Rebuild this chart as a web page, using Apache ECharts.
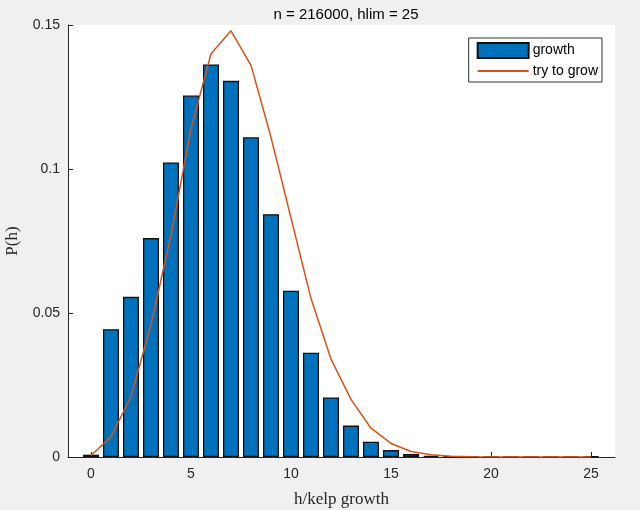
<!DOCTYPE html>
<html>
<head>
<meta charset="utf-8">
<script src="https://cdn.jsdelivr.net/npm/echarts@6/dist/echarts.min.js"></script>
<style>
  html, body { margin: 0; padding: 0; background: #f0f0f0; }
  #chart { width: 640px; height: 510px; }
</style>
</head>
<body>
<div id="chart"></div>
<script>
// h values (bins) and measured probabilities
var hBins = [0,1,2,3,4,5,6,7,8,9,10,11,12,13,14,15,16,17,18,19,20,21,22,23,24,25];
var growth = [0.0008,0.0444,0.0556,0.0760,0.1023,0.1255,0.1363,0.1306,0.1110,0.0843,0.0577,0.0362,0.0207,0.0109,0.0053,0.0024,0.0010,0.0004,0.0002,0.0001,0,0,0,0,0,0.0002];
var tryToGrow = [0.0005,0.007,0.021,0.046,0.077,0.114,0.140,0.148,0.136,0.111,0.083,0.055,0.034,0.020,0.010,0.0047,0.0019,0.0008,0.0003,0.0001,0,0,0,0,0,0];
var xTicks = [0,5,10,15,20,25];

var tickFont = { fontFamily: 'Liberation Sans', fontSize: 14, color: '#262626' };

var barData = hBins.map(function (h, i) { return [h, growth[i]]; });
var lineData = hBins.map(function (h, i) { return [h, tryToGrow[i]]; });

var myChart = echarts.init(document.getElementById('chart'));
var option = {
  backgroundColor: '#f0f0f0',
  animation: false,
  title: {
    text: 'n = 216000, hlim = 25',
    left: 341,
    top: 2,
    textAlign: 'center',
    textStyle: { fontFamily: 'Liberation Sans', fontSize: 15, fontWeight: 'normal', color: '#000' }
  },
  grid: {
    left: 68, top: 25, right: 25, bottom: 53,
    outerBoundsMode: 'none',
    containLabel: false,
    show: true, backgroundColor: '#fff', borderWidth: 0
  },
  legend: {
    orient: 'vertical',
    right: 38,
    top: 38,
    itemWidth: 51,
    itemHeight: 15,
    itemGap: 5,
    padding: [4, 4, 4, 8],
    backgroundColor: '#fff',
    borderColor: '#333',
    borderWidth: 1,
    textStyle: { fontFamily: 'Liberation Sans', fontSize: 14, color: '#000', padding: [0, 0, 0, -1] },
    data: [
      { name: 'growth', icon: 'rect' },
      { name: 'try to grow', itemStyle: { opacity: 0 } }
    ]
  },
  xAxis: {
    type: 'value',
    min: -1.15,
    max: 26.2,
    name: 'h/kelp growth',
    nameLocation: 'middle',
    nameGap: 34,
    nameTextStyle: { fontFamily: 'Liberation Serif', fontSize: 17, color: '#262626' },
    axisLine: { onZero: false, lineStyle: { color: '#262626' } },
    axisTick: { inside: true, length: 5, customValues: xTicks, lineStyle: { color: '#262626' } },
    axisLabel: Object.assign({ margin: 10, customValues: xTicks }, tickFont),
    splitLine: { show: false }
  },
  yAxis: {
    type: 'value',
    min: 0,
    max: 0.15,
    interval: 0.05,
    name: 'P(h)',
    nameLocation: 'middle',
    nameGap: 47,
    nameTextStyle: { fontFamily: 'Liberation Serif', fontSize: 17, color: '#262626' },
    axisLine: { show: true, onZero: false, lineStyle: { color: '#262626' } },
    axisTick: { show: true, inside: true, length: 5, lineStyle: { color: '#262626' } },
    axisLabel: Object.assign({ margin: 8 }, tickFont),
    splitLine: { show: false }
  },
  series: [
    {
      name: 'growth',
      type: 'bar',
      data: barData,
      barWidth: 16,
      itemStyle: { color: '#0072BD', borderColor: '#111', borderWidth: 1.3 }
    },
    {
      name: 'try to grow',
      type: 'line',
      data: lineData,
      symbol: 'none',
      lineStyle: { color: '#D95319', width: 1.5 },
      itemStyle: { color: '#D95319' }
    }
  ]
};
myChart.setOption(option, true);
</script>
</body>
</html>
